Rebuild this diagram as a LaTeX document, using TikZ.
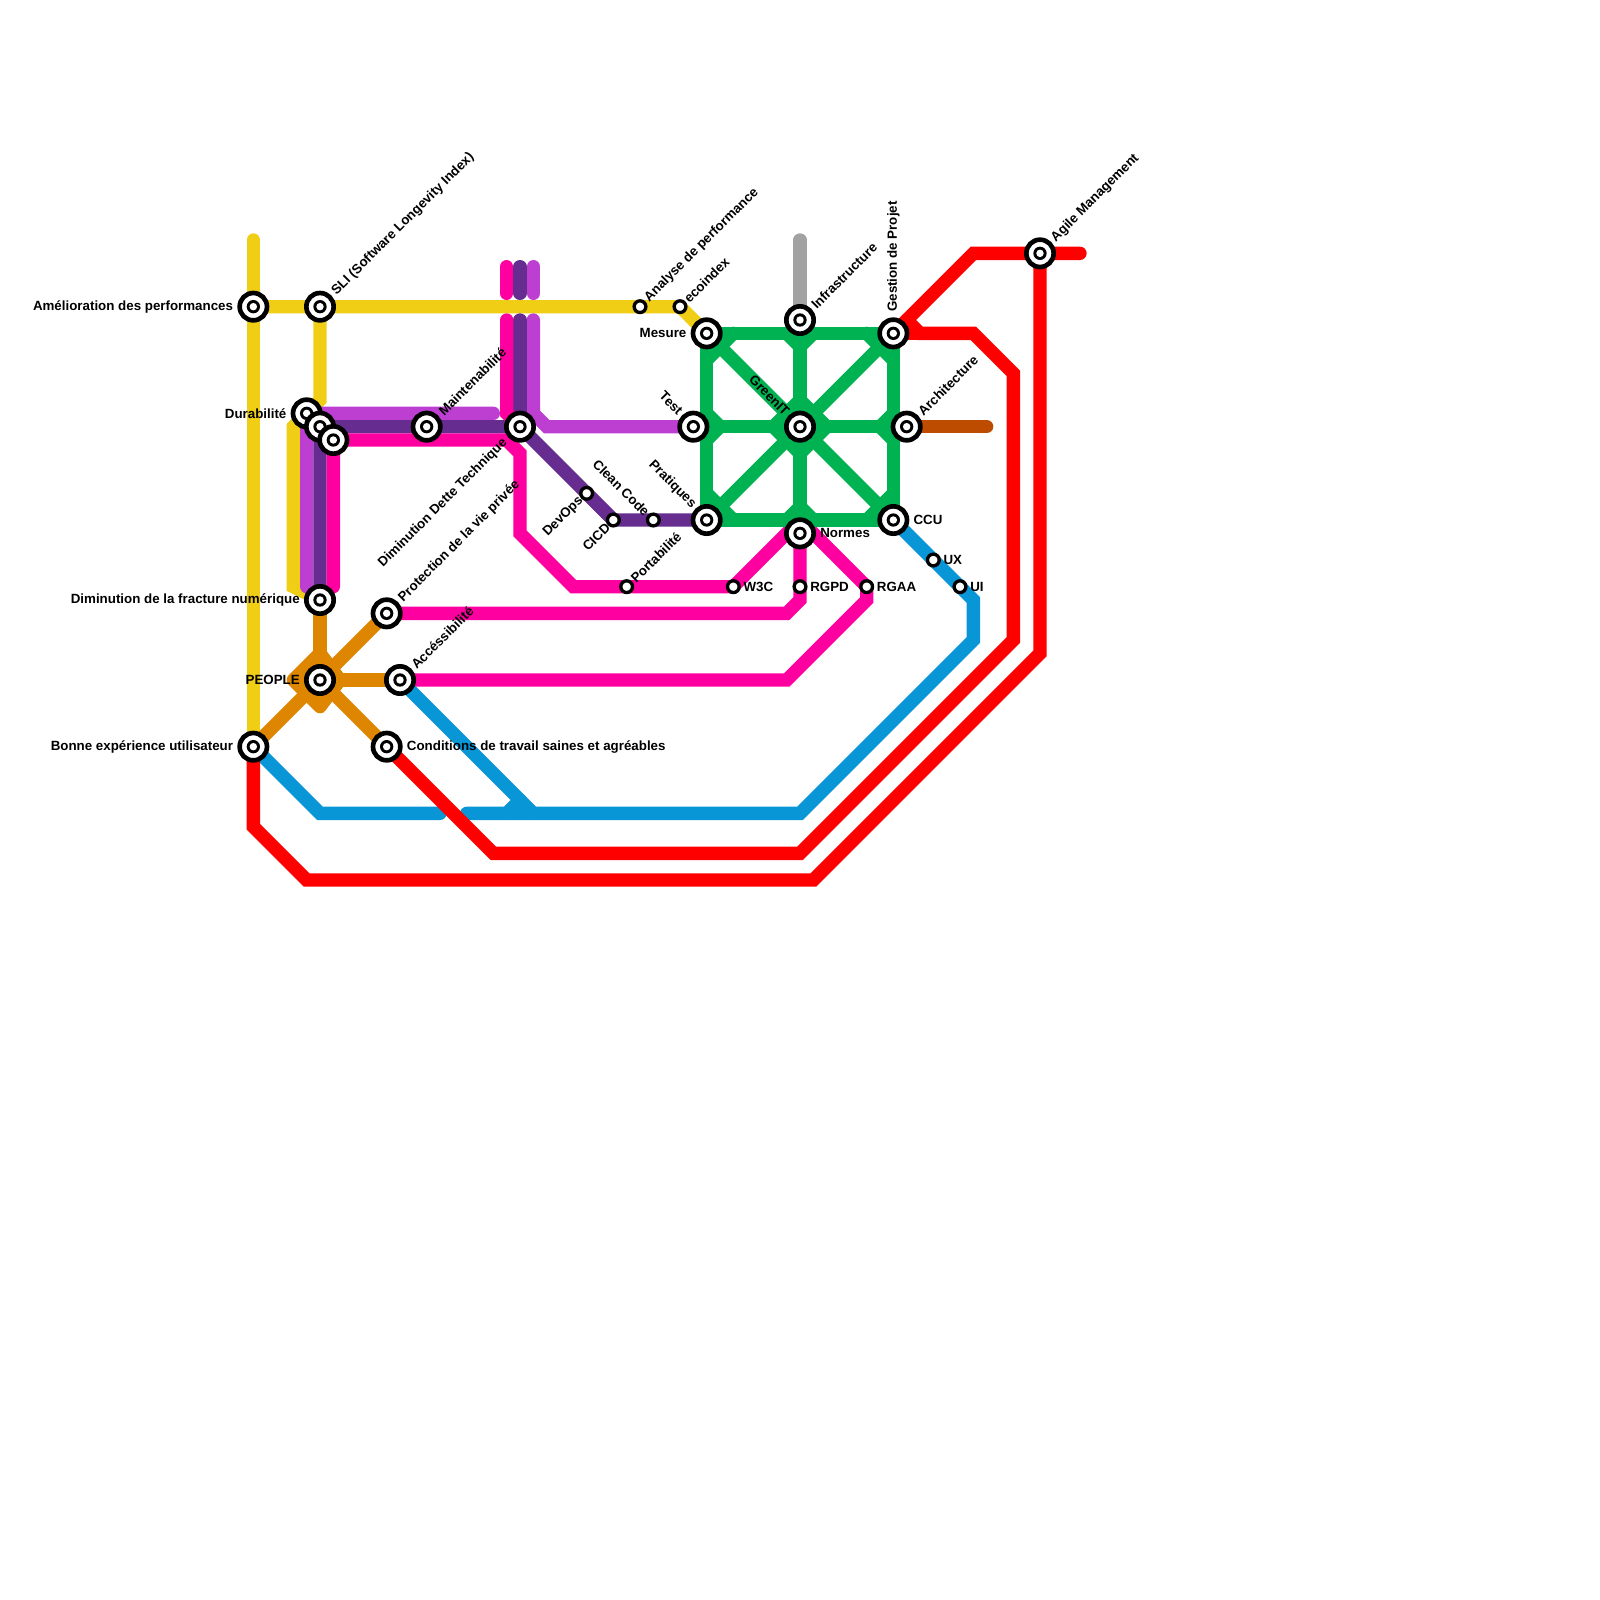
\documentclass[tikz,border=0pt]{standalone}
\usepackage{fontspec}
\setmainfont{Liberation Sans}
\usetikzlibrary{backgrounds}
\definecolor{cyellow}{HTML}{F0CE15}
\definecolor{corchid}{HTML}{BC3FD2}
\definecolor{cpurple}{HTML}{662C90}
\definecolor{cmagenta}{HTML}{FF00A0}
\definecolor{corange}{HTML}{DF8600}
\definecolor{cblue}{HTML}{0896D7}
\definecolor{cred}{HTML}{FF0000}
\definecolor{cgreen}{HTML}{00B251}
\definecolor{cgray}{HTML}{A2A2A2}
\definecolor{cbrown}{HTML}{BD4B00}
\tikzset{
  x=10pt,y=-10pt,
  hub/.style={circle,draw=black,fill=white,line width=3.5pt,minimum size=20.5pt,inner sep=0pt,outer sep=0pt,
    path picture={\fill[black] (path picture bounding box.center) circle (5pt);
                  \fill[white] (path picture bounding box.center) circle (2.8pt);}},
  halt/.style={circle,draw=black,fill=white,line width=2.5pt,minimum size=8.8pt,inner sep=0pt,outer sep=0pt},
  metro/.style={line width=10pt,line cap=round,line join=miter},
  lab/.style={font=\bfseries\fontsize{10pt}{11pt}\selectfont,inner sep=0pt,text=black},
  labne/.style={lab,rotate=45,anchor=west},
  labsw/.style={lab,rotate=45,anchor=east},
  labnw/.style={lab,rotate=-45,anchor=east},
  labe/.style={lab,anchor=west},
  labw/.style={lab,anchor=east},
}
\begin{document}
\begin{tikzpicture}
\useasboundingbox (0,0) rectangle (120,120);
% stations
\node[hub] (amelio) at (19,23) {};
\node[hub] (sli) at (24,23) {};
\node[hub] (durab) at (23,31) {};
\node[hub] (dur2) at (24,32) {};
\node[hub] (dur3) at (25,33) {};
\node[hub] (maint) at (32,32) {};
\node[hub] (dette) at (39,32) {};
\node[halt] (analyse) at (48,23) {};
\node[halt] (eco) at (51,23) {};
\node[hub] (mesure) at (53,25) {};
\node[hub] (infra) at (60,24) {};
\node[hub] (gestion) at (67,25) {};
\node[hub] (archi) at (68,32) {};
\node[hub] (test) at (52,32) {};
\node[hub] (green) at (60,32) {};
\node[hub] (prat) at (53,39) {};
\node[hub] (normes) at (60,40) {};
\node[hub] (ccu) at (67,39) {};
\node[halt] (clean) at (49,39) {};
\node[halt] (cicd) at (46,39) {};
\node[halt] (devops) at (44,37) {};
\node[halt] (porta) at (47,44) {};
\node[halt] (wtroisc) at (55,44) {};
\node[halt] (rgpd) at (60,44) {};
\node[halt] (rgaa) at (65,44) {};
\node[halt] (ux) at (70,42) {};
\node[halt] (ui) at (72,44) {};
\node[hub] (agile) at (78,19) {};
\node[hub] (fract) at (24,45) {};
\node[hub] (protec) at (29,46) {};
\node[hub] (people) at (24,51) {};
\node[hub] (access) at (30,51) {};
\node[hub] (bonne) at (19,56) {};
\node[hub] (cond) at (29,56) {};
% labels
\node[labw] (l1) at (17.5,23) {Amélioration des performances};
\node[labne] (l2) at (25.05,22) {SLI (Software Longevity Index)};
\node[labw] (l3) at (21.5,31) {Durabilité};
\node[labne] (l4) at (33.05,31) {Maintenabilité};
\node[labsw] (l5) at (37.9,33.05) {Diminution Dette Technique};
\node[labne] (l6) at (30.05,45) {Protection de la vie privée};
\node[labne] (l7) at (31.0,50) {Accéssibilité};
\node[labne] (l8) at (48.5,22.5) {Analyse de performance};
\node[labne] (l9) at (51.45,22.55) {ecoindex};
\node[labw] (l10) at (51.5,25) {Mesure};
\node[labne] (l11) at (61.0,23) {Infrastructure};
\node[lab,rotate=90,anchor=west] (l12) at (67,23.4) {Gestion de Projet};
\node[labne] (l13) at (69.0,31) {Architecture};
\node[labne] (l14) at (79.0,18) {Agile Management};
\node[labnw] (l15) at (59.05,31) {GreenIT};
\node[labnw] (l16) at (51.05,30.95) {Test};
\node[labnw] (l17) at (52.05,37.95) {Pratiques};
\node[labnw] (l18) at (48.55,38.55) {Clean Code};
\node[labsw] (l19) at (43.6,37.4) {DevOps};
\node[labsw] (l20) at (45.6,39.4) {CICD};
\node[labne] (l21) at (47.45,43.55) {Portabilité};
\node[labe] (l22) at (55.75,44) {W3C};
\node[labe] (l23) at (60.75,44) {RGPD};
\node[labe] (l24) at (65.75,44) {RGAA};
\node[labe] (l25) at (61.5,40) {Normes};
\node[labe] (l26) at (68.5,39) {CCU};
\node[labe] (l27) at (70.75,42) {UX};
\node[labe] (l28) at (72.75,44) {UI};
\node[labe] (l29) at (30.5,56) {Conditions de travail saines et agréables};
\node[labw] (l30) at (17.5,56) {Bonne expérience utilisateur};
\node[labw] (l31) at (22.5,51) {PEOPLE};
\node[labw] (l32) at (22.5,45) {Diminution de la fracture numérique};
% lines
\begin{pgfonlayer}{background}
\fill[white] (0,0) rectangle (120,120);
\begin{scope}[metro]
% yellow
\draw[cyellow] (19,18) -- (bonne.center);
\draw[cyellow] (amelio.center) -- (sli.center) -- (analyse.center) -- (eco.center) -- (mesure.center);
\draw[cyellow] (sli.center) -- (24,30) -- (22,32) -- (22,44) -- (fract.center);
% gray, brown
\draw[cgray] (60,18) -- (infra.center);
\draw[cbrown] (archi.center) -- (74,32);
% orchid
\draw[corchid] (23,44) -- (23,32) -- (24,31) -- (37,31);
\draw[corchid] (40,20) -- (40,22);
\draw[corchid] (40,24) -- (40,31) -- (41,32) -- (test.center);
% purple
\draw[cpurple] (39,20) -- (39,22);
\draw[cpurple] (39,24) -- (dette.center);
\draw[cpurple] (24,45) -- (dur2.center) -- (maint.center) -- (dette.center) -- (cicd.center) -- (clean.center) -- (prat.center);
\draw[cpurple] (devops.center) -- (cicd.center);
% magenta
\draw[cmagenta] (38,20) -- (38,22);
\draw[cmagenta] (38,24) -- (38,31) -- (dette.center);
\draw[cmagenta] (25,44) -- (dur3.center) -- (38,33) -- (39,34) -- (39,40) -- (43,44) -- (porta.center) -- (wtroisc.center) -- (59,40) -- (normes.center);
\draw[cmagenta] (protec.center) -- (59,46) -- (60,45) -- (rgpd.center) -- (normes.center);
\draw[cmagenta] (access.center) -- (59,51) -- (65,45) -- (rgaa.center) -- (61,40) -- (normes.center);
% orange
\draw[corange,line join=round,fill=corange] (24,49) -- (22,51) -- (24,53) -- (25.5,51) -- cycle;
\draw[corange] (fract.center) -- (people.center);
\draw[corange] (protec.center) -- (people.center);
\draw[corange] (access.center) -- (people.center);
\draw[corange] (bonne.center) -- (people.center);
\draw[corange] (cond.center) -- (people.center);
% blue
\draw[cblue] (bonne.center) -- (24,61) -- (33,61);
\draw[cblue] (ccu.center) -- (ux.center) -- (ui.center) -- (73,45) -- (73,48) -- (60,61) -- (35,61);
\draw[cblue] (access.center) -- (40,61);
\draw[cblue] (39,60) -- (38,61);
% red
\draw[cred] (bonne.center) -- (19,62) -- (23,66) -- (61,66) -- (78,49) -- (agile.center);
\draw[cred] (gestion.center) -- (73,19) -- (agile.center) -- (81,19);
\draw[cred] (68,24) -- (69,25) -- (73,25) -- (76,28) -- (76,48) -- (60,64) -- (37,64) -- (cond.center);
\draw[cred] (gestion.center) -- (69,25);
% green
\draw[cgreen,line cap=butt] (mesure.center) -- (gestion.center) -- (ccu.center) -- (prat.center) -- cycle;
\draw[cgreen] (mesure.center) -- (ccu.center);
\draw[cgreen] (gestion.center) -- (prat.center);
\draw[cgreen] (infra.center) -- (normes.center);
\draw[cgreen] (53,32) -- (67,32);
\draw[cgreen] (53,27) -- (55,25);
\draw[cgreen] (65,25) -- (67,27);
\draw[cgreen] (53,37) -- (55,39);
\draw[cgreen] (65,39) -- (67,37);
\draw[cgreen] (59,25) -- (60,26) -- (61,25);
\draw[cgreen] (53,31) -- (54,32) -- (53,33);
\draw[cgreen] (67,31) -- (66,32) -- (67,33);
\draw[cgreen] (59,39) -- (60,38) -- (61,39);
\draw[cgreen] (58,32) -- (60,30) -- (62,32) -- (60,34) -- cycle;
\end{scope}
\end{pgfonlayer}
\end{tikzpicture}
\end{document}
